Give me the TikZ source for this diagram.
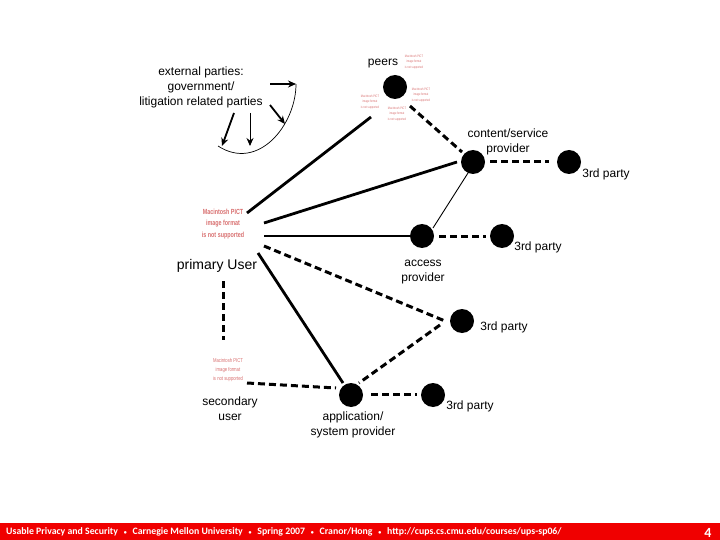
\documentclass[tikz,border=0pt]{standalone}
\usepackage{fontspec}
\setmainfont{Liberation Sans}
\newfontfamily\footfont{Carlito}
\usetikzlibrary{arrows.meta}
\newcommand{\footsep}{\hspace{5.8pt}{\fontsize{6}{6}\selectfont\textbullet}\hspace{5.8pt}}
\tikzset{
 x=1pt,y=-1pt,
 dot/.style={circle,fill=black,minimum size=24pt,inner sep=0pt},
 lbl/.style={align=center,inner sep=0pt,font=\fontsize{12}{15}\selectfont,text=black},
 pict/.style={align=center,inner sep=0pt,text=pinktxt,xscale=0.75,transform shape,font=\fontsize{3.4}{5.8}\selectfont},
 pictm/.style={pict,font=\fontsize{5.6}{9}\selectfont},
 pictl/.style={pict,xscale=0.97,font=\bfseries\fontsize{7.4}{11.8}\selectfont},
 solidedge/.style={line width=2.8pt,black},
 thinedge/.style={line width=0.9pt,black},
 dashedge/.style={line width=3pt,black,dash pattern=on 7pt off 4pt},
 arr/.style={-{Stealth[length=8pt,width=7pt]},black},
}
\definecolor{pinktxt}{HTML}{D97070}
\definecolor{footred}{HTML}{F00000}
\begin{document}
\begin{tikzpicture}
\useasboundingbox (0,0) rectangle (720,540);
\fill[white] (0,0) rectangle (720,540);
\fill[footred] (0,523) rectangle (720,540);
% dots
\node[dot] (peer) at (395,87) {};
\node[dot] (csp) at (473,162) {};
\node[dot] (csp3) at (569,162) {};
\node[dot] (ap) at (422,236) {};
\node[dot] (ap3) at (502,236) {};
\node[dot] (bp3) at (462,321) {};
\node[dot] (asp) at (351,395) {};
\node[dot] (asp3) at (433,395) {};
% images
\node[pictl] (user) at (223,224) {Macintosh PICT\\image format\\is not supported};
\node[pictm] (sec) at (228,370) {Macintosh PICT\\image format\\is not supported};
\node[pict] (p1) at (414,62) {Macintosh PICT\\image format\\is not supported};
\node[pict] (p2) at (421,95) {Macintosh PICT\\image format\\is not supported};
\node[pict] (p3) at (397,114) {Macintosh PICT\\image format\\is not supported};
\node[pict] (p4) at (370,102) {Macintosh PICT\\image format\\is not supported};
% labels
\node[lbl] (ext) at (201,87) {external parties:\\government/\\litigation related parties};
\node[lbl] (peers) at (383,64) {peers};
\node[lbl] (csplab) at (508,142) {content/service\\provider};
\node[lbl] (c3) at (606,174) {3rd party};
\node[lbl] (a3) at (538,247) {3rd party};
\node[lbl,font=\fontsize{14}{16}\selectfont] (ulab) at (217,266) {primary User};
\node[lbl] (aplab) at (423,272) {access\\provider};
\node[lbl] (b3) at (504,327) {3rd party};
\node[lbl] (seclab) at (230,409) {secondary\\user};
\node[lbl] (asplab) at (353,425) {application/\\system provider};
\node[lbl] (d3) at (470,406) {3rd party};
% external parties arrows
\coordinate (arcA) at (296,84);
\coordinate (arcB) at (218,146);
\coordinate (arcM) at (285,124);
\coordinate (arcL) at (222,146);
\coordinate (arcN) at (250,146);
\draw[line width=0.7pt] (arcA) .. controls (296,125) and (258,172) .. (arcB);
\draw[arr,line width=1.8pt] ([shift={(69,-3)}]ext.center) -- (arcA);
\draw[arr,line width=1.8pt] ([shift={(33,26)}]ext.center) -- (arcL);
\draw[arr,line width=0.9pt] ([shift={(49,26)}]ext.center) -- (arcN);
\draw[arr,line width=1.8pt] ([shift={(69,18)}]ext.center) -- (arcM);
% connectors
\draw[solidedge] ([shift={(24,-11)}]user.center) -- ([shift={(-24,30)}]peer.center);
\draw[solidedge] ([shift={(41,-1)}]user.center) -- ([shift={(-16,0)}]csp.center);
\draw[solidedge] ([shift={(41,12)}]user.center) -- ([shift={(-11,0)}]ap.center);
\draw[dashedge] ([shift={(41,22)}]user.center) -- ([shift={(-17,0)}]bp3.center);
\draw[solidedge] ([shift={(35,29)}]user.center) -- ([shift={(-8,-12)}]asp.center);
\draw[thinedge] ([shift={(-5,11)}]csp.center) -- ([shift={(11,-8)}]ap.center);
\draw[dashedge] ([shift={(15,19)}]peer.center) -- ([shift={(-11,-10)}]csp.center);
\draw[dashedge] ([shift={(17,0)}]csp.center) -- ([shift={(-20,0)}]csp3.center);
\draw[dashedge] ([shift={(17,0)}]ap.center) -- ([shift={(-16,0)}]ap3.center);
\draw[dashedge] ([shift={(-22,4)}]bp3.center) -- ([shift={(8,-12)}]asp.center);
\draw[dashedge] ([shift={(20,-1)}]asp.center) -- ([shift={(-16,-1)}]asp3.center);
\draw[dashedge] ([shift={(19,13)}]sec.center) -- ([shift={(-15,-7)}]asp.center);
\draw[dashedge] ([shift={(6.5,15)}]ulab.center) -- ([shift={(-4.5,-30)}]sec.center);
% footer
\node[anchor=west,inner sep=0pt,text=white,font=\footfont\bfseries\fontsize{9.8}{11}\selectfont] (foot) at (6,532) {Usable Privacy and Security\footsep Carnegie Mellon University\footsep Spring 2007\footsep Cranor/Hong\footsep http://cups.cs.cmu.edu/courses/ups-sp06/};
\node[inner sep=0pt,text=white,font=\footfont\bfseries\fontsize{14}{16}\selectfont] (pg) at (708,533) {4};
\end{tikzpicture}
\end{document}
